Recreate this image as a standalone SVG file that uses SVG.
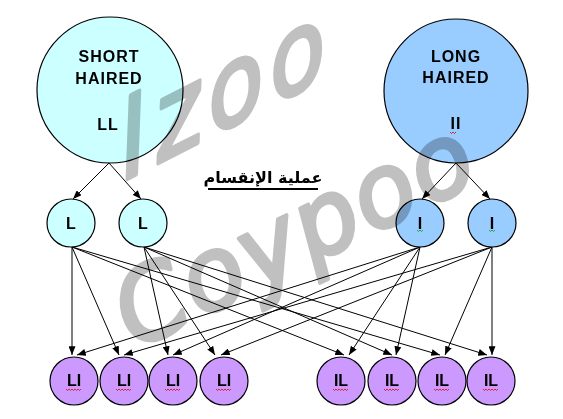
<svg xmlns="http://www.w3.org/2000/svg" width="563" height="419" viewBox="0 0 563 419">
<defs>
<style>
.c{stroke:#000;stroke-width:1.2}
.cy{fill:#ccffff}
.bl{fill:#99ccff}
.pu{fill:#cc99ff}
.t{font-family:"Liberation Sans",Arial,sans-serif;font-weight:bold;fill:#000;text-anchor:middle}
.big{font-size:16px;letter-spacing:1px}
.sm{font-size:16px}
.ln{stroke:#000;stroke-width:1;fill:none;marker-end:url(#ah)}
.sqr{stroke:#e00000;stroke-width:0.8;fill:none}
.sqg{stroke:#00a000;stroke-width:0.8;fill:none}
.wm{font-family:"DejaVu Sans",sans-serif;font-style:oblique;font-weight:normal;fill:#c0c0c0;stroke:#c0c0c0;stroke-width:4;stroke-linejoin:round}
</style>
<marker id="ah" viewBox="0 0 10 8" markerWidth="9" markerHeight="7" refX="10" refY="4" orient="auto" markerUnits="userSpaceOnUse">
<path d="M0,0 L10,4 L0,8 z" fill="#000"/>
</marker>
<path id="sq" d="M0,0 l1.5,1.5 l1.5,-1.5 l1.5,1.5 l1.5,-1.5 l1.5,1.5 l1.5,-1.5 l1.5,1.5 l1.5,-1.5 l1.5,1.5 l1.5,-1.5"/>
<path id="sqs" d="M0,0 l1.5,1.5 l1.5,-1.5 l1.5,1.5 l1.5,-1.5"/>
</defs>
<rect width="563" height="419" fill="#fff"/>

<g id="connectors">
<line class="ln" x1="109" y1="163" x2="73" y2="199"/>
<line class="ln" x1="109" y1="163" x2="141" y2="199"/>
<line class="ln" x1="456" y1="163" x2="422" y2="199"/>
<line class="ln" x1="456" y1="163" x2="490" y2="199"/>
<line class="ln" x1="72" y1="247" x2="72" y2="355"/>
<line class="ln" x1="72" y1="247" x2="119" y2="355"/>
<line class="ln" x1="72" y1="247" x2="344" y2="355"/>
<line class="ln" x1="72" y1="247" x2="440" y2="355"/>
<line class="ln" x1="144" y1="247" x2="168" y2="355"/>
<line class="ln" x1="144" y1="247" x2="215" y2="355"/>
<line class="ln" x1="144" y1="247" x2="392" y2="355"/>
<line class="ln" x1="144" y1="247" x2="487" y2="355"/>
<line class="ln" x1="420" y1="247" x2="349" y2="355"/>
<line class="ln" x1="420" y1="247" x2="396" y2="355"/>
<line class="ln" x1="420" y1="247" x2="77" y2="355"/>
<line class="ln" x1="420" y1="247" x2="173" y2="355"/>
<line class="ln" x1="492" y1="247" x2="445" y2="355"/>
<line class="ln" x1="492" y1="247" x2="492" y2="355"/>
<line class="ln" x1="492" y1="247" x2="124" y2="355"/>
<line class="ln" x1="492" y1="247" x2="221" y2="355"/>
</g>

<g id="short">
<circle class="c cy" cx="110" cy="90" r="73"/>
<text class="t big" x="109" y="62">SHORT</text>
<text class="t big" x="109" y="84">HAIRED</text>
<text class="t big" x="108" y="130">LL</text>
</g>
<g id="long">
<circle class="c bl" cx="456" cy="91" r="72"/>
<text class="t big" x="456" y="62">LONG</text>
<text class="t big" x="456" y="83">HAIRED</text>
<text class="t big" x="456" y="129">II</text>
<use href="#sqs" class="sqr" x="450" y="132"/>
</g>

<g id="title">
<text x="263" y="183" direction="rtl" text-anchor="middle" font-family="DejaVu Sans, sans-serif" font-weight="bold" font-size="16">عملية الإنقسام</text>
<line x1="208" y1="189" x2="318" y2="189" stroke="#000" stroke-width="2"/>
</g>

<g id="L1"><circle class="c cy" cx="71" cy="223" r="24"/><text class="t sm" x="71" y="229">L</text></g>
<g id="L2"><circle class="c cy" cx="143" cy="223" r="24"/><text class="t sm" x="143" y="229">L</text></g>
<g id="I1"><circle class="c bl" cx="420" cy="223" r="24"/><text class="t sm" x="420" y="229">I</text><use href="#sqs" class="sqg" x="417" y="230"/></g>
<g id="I2"><circle class="c bl" cx="492" cy="223" r="24"/><text class="t sm" x="492" y="229">I</text><use href="#sqs" class="sqg" x="489" y="230"/></g>

<g id="LI1"><circle class="c pu" cx="74" cy="381" r="24"/><text class="t sm" x="74" y="386">LI</text><use href="#sq" class="sqr" x="66" y="389"/></g>
<g id="LI2"><circle class="c pu" cx="124" cy="381" r="24"/><text class="t sm" x="124" y="386">LI</text><use href="#sq" class="sqr" x="116" y="389"/></g>
<g id="LI3"><circle class="c pu" cx="173" cy="381" r="24"/><text class="t sm" x="173" y="386">LI</text><use href="#sq" class="sqr" x="165" y="389"/></g>
<g id="LI4"><circle class="c pu" cx="224" cy="381" r="24"/><text class="t sm" x="224" y="386">LI</text><use href="#sq" class="sqr" x="216" y="389"/></g>
<g id="IL1"><circle class="c pu" cx="341" cy="381" r="24"/><text class="t sm" x="341" y="386">IL</text><use href="#sq" class="sqr" x="333" y="389"/></g>
<g id="IL2"><circle class="c pu" cx="392" cy="381" r="24"/><text class="t sm" x="392" y="386">IL</text><use href="#sq" class="sqr" x="384" y="389"/></g>
<g id="IL3"><circle class="c pu" cx="442" cy="381" r="24"/><text class="t sm" x="442" y="386">IL</text><use href="#sq" class="sqr" x="434" y="389"/></g>
<g id="IL4"><circle class="c pu" cx="491" cy="381" r="24"/><text class="t sm" x="491" y="386">IL</text><use href="#sq" class="sqr" x="483" y="389"/></g>

<g id="watermark" style="mix-blend-mode:multiply">
<text class="wm" font-size="100" letter-spacing="8" transform="translate(125,180) rotate(-27) skewX(-20)">Izoo</text>
<text class="wm" font-size="100" letter-spacing="2" transform="translate(135,350) rotate(-26)">Coypoo</text>
</g>
</svg>
